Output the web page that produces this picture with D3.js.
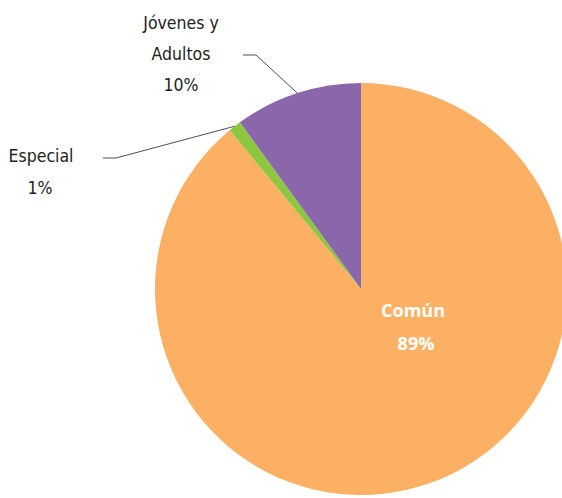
<!doctype html>
<html>
<head>
<meta charset="utf-8">
<title>Pie</title>
<script src="https://cdnjs.cloudflare.com/ajax/libs/d3/7.8.5/d3.min.js"></script>
<style>
  body { margin: 0; background: #fff; }
  text { font-family: "DejaVu Sans Condensed", "Open Sans", sans-serif; font-stretch: condensed; }
  text.inner { font-family: "Open Sans", sans-serif; font-stretch: normal; }
</style>
</head>
<body>
<div id="chart"></div>
<script>
// Daten
const categories = ['Común', 'Especial', 'Jóvenes y Adultos'];
const values = [89, 1, 10];
const labels = ['89%', '1%', '10%'];
const colors = ['#FBB063', '#8DC63F', '#8A67AA'];

const width = 562, height = 498;
const cx = 361, cy = 289, r = 206;

const svg = d3.select('#chart').append('svg')
  .attr('width', width)
  .attr('height', height);

const pie = d3.pie().sort(null).value(d => d)(values);
const arc = d3.arc().innerRadius(0).outerRadius(r);

const g = svg.append('g').attr('transform', `translate(${cx},${cy})`);

g.selectAll('path')
  .data(pie)
  .join('path')
  .attr('d', arc)
  .attr('fill', (d, i) => colors[i]);

// Punkt am Rand für die Linien
function edge(d) {
  const a = (d.startAngle + d.endAngle) / 2;
  return [cx + Math.sin(a) * r, cy - Math.cos(a) * r];
}

// Común - innen, weiss
svg.append('text').attr('class', 'inner')
  .attr('x', 413).attr('y', 317)
  .attr('text-anchor', 'middle')
  .attr('fill', '#fff')
  .attr('font-weight', 'bold')
  .attr('font-size', 18)
  .text(categories[0]);
svg.append('text').attr('class', 'inner')
  .attr('x', 416).attr('y', 350)
  .attr('text-anchor', 'middle')
  .attr('fill', '#fff')
  .attr('font-weight', 'bold')
  .attr('font-size', 18)
  .text(labels[0]);

// Especial
const e1 = edge(pie[1]);
svg.append('polyline')
  .attr('points', `103,158 116,158 ${e1[0]},${e1[1]}`)
  .attr('fill', 'none').attr('stroke', '#222').attr('stroke-width', 0.8);
svg.append('text')
  .attr('x', 41).attr('y', 162)
  .attr('text-anchor', 'middle')
  .attr('fill', '#222').attr('font-size', 17.5)
  .text(categories[1]);
svg.append('text')
  .attr('x', 40).attr('y', 194)
  .attr('text-anchor', 'middle')
  .attr('fill', '#222').attr('font-size', 17.5)
  .text(labels[1]);

// Jóvenes y Adultos
const e2 = edge(pie[2]);
svg.append('polyline')
  .attr('points', `243,55 256,55 ${e2[0]},${e2[1]}`)
  .attr('fill', 'none').attr('stroke', '#222').attr('stroke-width', 0.8);
['Jóvenes y', 'Adultos', labels[2]].forEach((t, i) => {
  svg.append('text')
    .attr('x', 181).attr('y', 29 + i * 31)
    .attr('text-anchor', 'middle')
    .attr('fill', '#222').attr('font-size', 17.5)
    .text(t);
});
</script>
</body>
</html>
